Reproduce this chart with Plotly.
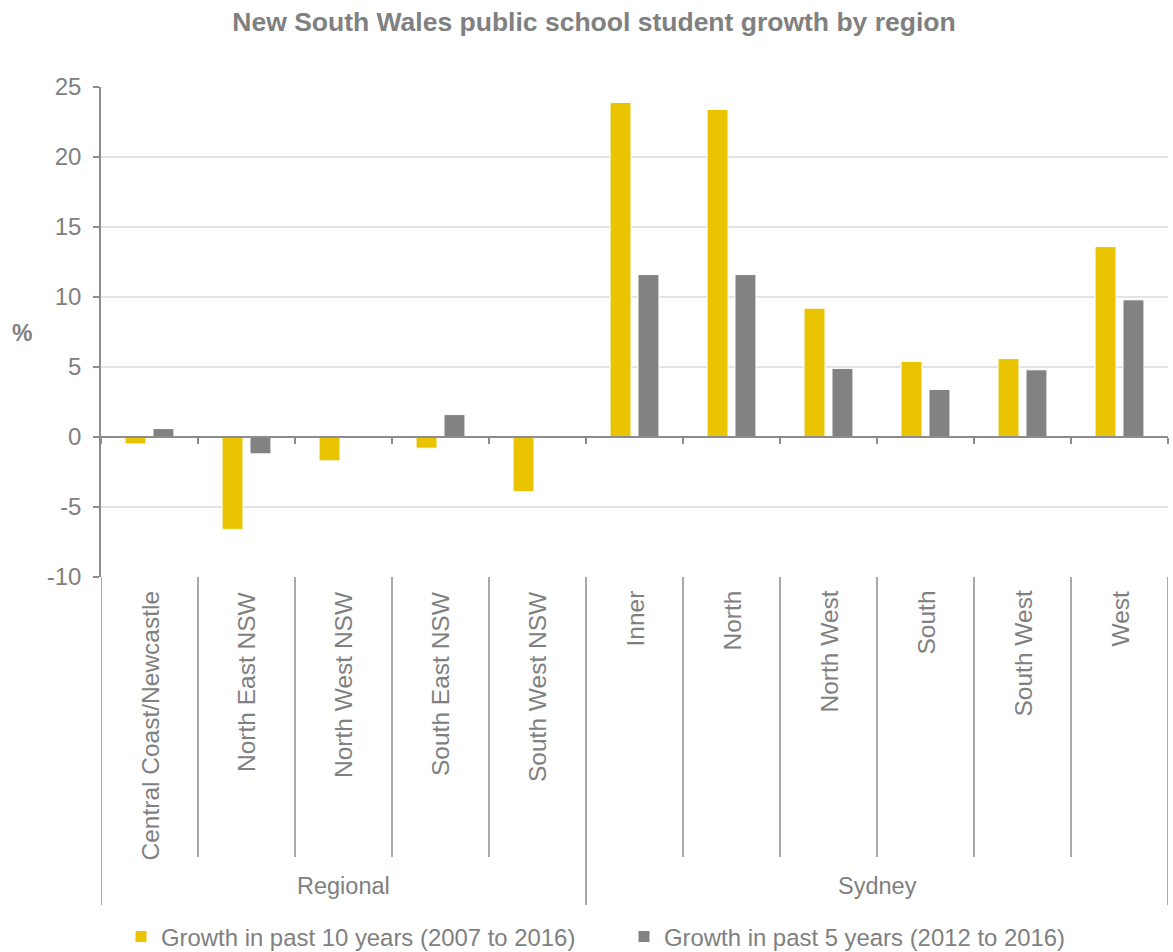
import plotly.graph_objects as go

# Regions (grouped) and growth figures, %
groups = ["Regional"] * 5 + ["Sydney"] * 6
regions = [
    "Central Coast/Newcastle", "North East NSW", "North West NSW",
    "South East NSW", "South West NSW",
    "Inner", "North", "North West", "South", "South West", "West",
]
growth_10yr = [-0.5, -6.6, -1.7, -0.8, -3.9, 23.9, 23.4, 9.2, 5.4, 5.6, 13.6]
growth_5yr = [0.6, -1.2, 0.0, 1.6, -0.1, 11.6, 11.6, 4.9, 3.4, 4.8, 9.8]
series_names = [
    "Growth in past 10 years (2007 to 2016)",
    "Growth in past 5 years (2012 to 2016)",
]
y_ticks = [-10, -5, 0, 5, 10, 15, 20, 25]
y_tick_text = ["-10", "-5", "0", "5", "10", "15", "20", "25"]

YELLOW = "#EAC400"
GREY = "#828282"
TEXT = "#808080"
LINE = "#8c8c8c"
FONT = "Liberation Sans, Arial, sans-serif"

W, H = 1173, 952
M_L, M_R, M_T, M_B = 101, 5, 87, 375
plot_w = W - M_L - M_R
plot_h = H - M_T - M_B
y_min, y_max = -10, 25

fig = go.Figure()
fig.add_trace(go.Bar(x=regions, y=growth_10yr, name=series_names[0],
                     marker=dict(color=YELLOW, line=dict(color="white", width=1))))
fig.add_trace(go.Bar(x=regions, y=growth_5yr, name=series_names[1],
                     marker=dict(color=GREY, line=dict(color="white", width=1))))


def px_to_paper_y(py):
    """Convert a pixel row of the page into paper y coordinates."""
    return (H - M_B - py) / plot_h


def px_to_paper_x(px):
    """Convert a pixel column of the page into paper x coordinates."""
    return (px - M_L) / plot_w


# Rotated region labels under the plot
for r in regions:
    fig.add_annotation(x=r, xref="x", y=px_to_paper_y(589), yref="paper",
                       text=r, textangle=-90, showarrow=False,
                       xanchor="center", yanchor="top",
                       font=dict(family=FONT, size=24.5, color=TEXT))

# Group labels
group_names = []
for g in groups:
    if g not in group_names:
        group_names.append(g)
for g in group_names:
    idx = [i for i, v in enumerate(groups) if v == g]
    mid = (idx[0] + idx[-1]) / 2
    fig.add_annotation(x=mid, xref="x", y=px_to_paper_y(886), yref="paper",
                       text=g, showarrow=False, xanchor="center", yanchor="middle",
                       font=dict(family=FONT, size=23.5, color=TEXT))

# Divider lines between categories and around groups
n = len(regions)
for i in range(n + 1):
    xb = i - 0.5
    is_group_edge = (i == 0 or i == n or groups[i - 1] != groups[i])
    y_end = px_to_paper_y(905) if is_group_edge else px_to_paper_y(857)
    fig.add_shape(type="line", xref="x", yref="paper", x0=xb, x1=xb,
                  y0=0, y1=y_end, line=dict(color=LINE, width=1.5))

# Axis title "%"
fig.add_annotation(x=px_to_paper_x(22), xref="paper", y=px_to_paper_y(333), yref="paper",
                   text="<b>%</b>", showarrow=False, xanchor="center", yanchor="middle",
                   font=dict(family=FONT, size=23, color=TEXT))

fig.update_layout(
    width=W, height=H,
    margin=dict(l=M_L, r=M_R, t=M_T, b=M_B, autoexpand=False),
    paper_bgcolor="white", plot_bgcolor="white",
    barmode="group", bargap=0.424, bargroupgap=0.25,
    title=dict(text="<b>New South Wales public school student growth by region</b>",
               x=594 / W, xanchor="center", y=1 - 22 / H, yanchor="middle",
               font=dict(family=FONT, size=26.5, color=TEXT)),
    font=dict(family=FONT, color=TEXT),
    showlegend=True,
    legend=dict(orientation="h", xref="container", yref="container",
                x=121 / W, xanchor="left", y=1 - 937 / H, yanchor="middle",
                entrywidth=458, entrywidthmode="pixels",
                font=dict(family=FONT, size=23.9, color=TEXT),
                itemclick=False, bgcolor="rgba(0,0,0,0)"),
    xaxis=dict(type="category", range=[-0.5, n - 0.5],
               anchor="free", position=(0 - y_min) / (y_max - y_min),
               showline=True, linecolor=LINE, linewidth=1.5,
               ticks="outside", tickson="boundaries", ticklen=6,
               tickcolor=LINE, tickwidth=1.5,
               showticklabels=False, showgrid=False, zeroline=False),
    yaxis=dict(range=[y_min, y_max], tickvals=y_ticks, ticktext=y_tick_text,
               showline=True, linecolor=LINE, linewidth=1.5,
               ticks="outside", ticklen=6, tickcolor=LINE, tickwidth=1.5,
               ticklabelstandoff=7,
               showgrid=True, gridcolor="#e3e3e3", gridwidth=1.5,
               zeroline=False,
               tickfont=dict(family=FONT, size=24, color=TEXT)),
)

fig.write_html("out.html")
